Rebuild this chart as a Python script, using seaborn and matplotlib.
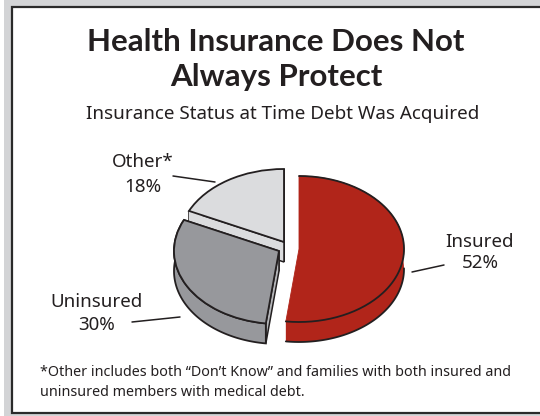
import numpy as np
import matplotlib
matplotlib.use("Agg")
import matplotlib.pyplot as plt
from matplotlib.patches import Rectangle
import seaborn as sns

categories = ["Insured", "Uninsured", "Other*"]
values = [52, 30, 18]
top_colors = ["#B1251A", "#97989C", "#DBDCDE"]
cut_colors = ["#B1251A", "#B5B6B9", "#DBDCDE"]
title_lines = ["Health Insurance Does Not", "Always Protect"]
subtitle = "Insurance Status at Time Debt Was Acquired"
footnote_lines = ["*Other includes both \u201cDon\u2019t Know\u201d and families with both insured and",
                  "uninsured members with medical debt."]
label_values = ["52%", "30%", "18%"]

sns.set_theme(style="white")
plt.rcParams["font.family"] = ["Noto Sans", "DejaVu Sans"]
W, H = 540, 416
RX, RY, DEPTH = 105.0, 73.0, 20.0
centers_px = [(299, 249), (279, 251), (284, 242)]
EDGE = "#231F20"

fig = plt.figure(figsize=(W / 100, H / 100), dpi=100, facecolor="#D3D4D6")
bg = fig.add_axes([0, 0, 1, 1])
bg.set_xlim(0, W); bg.set_ylim(H, 0); bg.axis("off")
bg.add_patch(Rectangle((0, 0), 4, H, fc="white", ec="none"))
bg.add_patch(Rectangle((11.5, 6.5), W, 406.5, fc="white", ec="#2A2A2A", lw=1.6))

ax = fig.add_axes([0, 0, 1, 1], facecolor="none")
wedges, _ = ax.pie(values, startangle=90, counterclock=False, radius=1,
                   colors=top_colors,
                   wedgeprops=dict(edgecolor=EDGE, linewidth=1.3))
ax.set_aspect("auto")
ax.set_xlim(0, W / RX)
ax.set_ylim(-H / RY, 0)
ax.axis("off")


def to_data(px, py):
    return px / RX, -py / RY


dy = DEPTH / RY
z = 2
for i in [2, 1, 0]:
    w = wedges[i]
    cx, cy = to_data(*centers_px[i])
    t1, t2 = w.theta1, w.theta2
    theta = np.radians(np.linspace(t1, t2, 160))
    arc_x = cx + np.cos(theta)
    arc_y = cy + np.sin(theta)
    if i != 0:
        for t in (t1, t2):
            ex, ey = cx + np.cos(np.radians(t)), cy + np.sin(np.radians(t))
            ax.fill([cx, ex, ex, cx], [cy, ey, ey - dy, cy - dy],
                    facecolor=cut_colors[i], edgecolor=EDGE, linewidth=1.1, zorder=z)
    ax.fill(np.r_[arc_x, arc_x[::-1]], np.r_[arc_y, arc_y[::-1] - dy],
            facecolor=top_colors[i], edgecolor=EDGE if i == 1 else "none",
            linewidth=1.3, zorder=z)
    w.set_center((cx, cy))
    w.set_zorder(z + 1)
    if i == 0:
        # The red slice has no dark line along its cut side
        w.set_edgecolor(top_colors[0])
        w.set_linewidth(0.6)
        ax.plot(arc_x, arc_y, color=EDGE, lw=1.3, zorder=z + 2)
        vis = np.sin(theta) <= 0.02
        ax.plot(arc_x[vis], arc_y[vis] - dy, color=EDGE, lw=1.3, zorder=z + 2)
    z += 3

ov = fig.add_axes([0, 0, 1, 1], facecolor="none")
ov.set_xlim(0, W); ov.set_ylim(H, 0); ov.axis("off")
for y, line in zip((42, 77), title_lines):
    ov.text(276, y, line, ha="center", va="center", fontsize=22.5, fontweight="bold",
            family=["Lato", "DejaVu Sans"], color=EDGE)
ov.text(283, 114, subtitle, ha="center", va="center", fontsize=13.55, color=EDGE)
lab = dict(ha="center", va="center", fontsize=13.5, color=EDGE)
positions = [(480, 242, 263), (97, 302, 325), (143, 162, 187)]
for name, pct, (x, y1, y2) in zip(categories, label_values, positions):
    ov.text(x, y1, name, **lab)
    ov.text(x, y2, pct, **lab)
for xs, ys in [((412, 444), (272, 265)), ((132, 180), (322, 317)), ((173, 215), (176, 182))]:
    ov.plot(xs, ys, color=EDGE, lw=1.1)
for y, line in zip((372, 393), footnote_lines):
    ov.text(40, y, line, ha="left", va="center", fontsize=10.3, color=EDGE)

fig.savefig("out.png", dpi=100, facecolor=fig.get_facecolor())
